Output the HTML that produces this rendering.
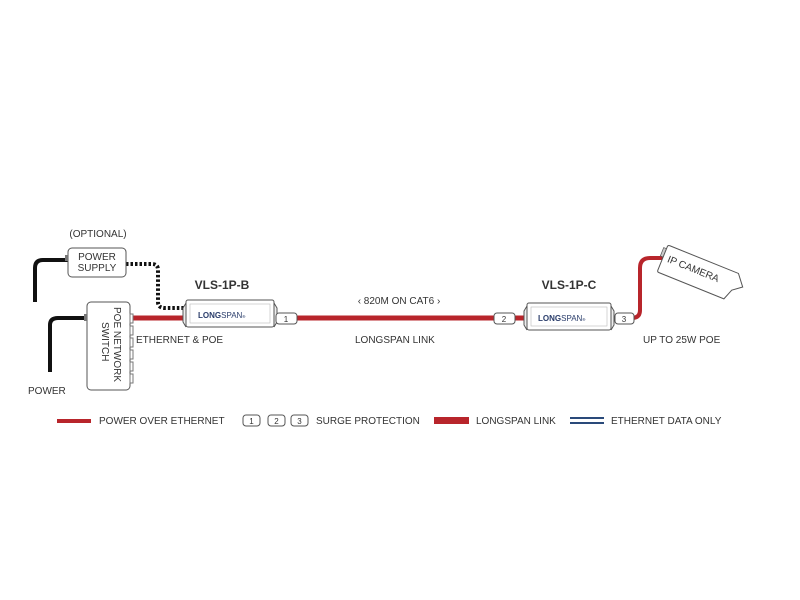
<!DOCTYPE html>
<html><head><style>body{margin:0;background:#fff}svg{display:block}text{font-family:"Liberation Sans",sans-serif;fill:#333}</style></head>
<body>
<svg width="800" height="600" viewBox="0 0 800 600" xmlns="http://www.w3.org/2000/svg">
<path d="M35,302 V268 Q35,260 43,260 H68" stroke="#111" stroke-width="4" fill="none"/>
<path d="M50,372 V325 Q50,318 58,318 H87" stroke="#111" stroke-width="4" fill="none"/>
<path d="M126,264 H152 Q158,264 158,270 V302 Q158,308 165,308 H188" stroke="#111" stroke-width="4" stroke-dasharray="2.5,2" fill="none"/>
<path d="M131,318 H190" stroke="#b8252b" stroke-width="5"/>
<path d="M270,318 H530" stroke="#b8252b" stroke-width="5"/>
<path d="M608,318 H632 Q640,318 640,310 V268 Q640,258 650,258 H670" stroke="#b8252b" stroke-width="4" fill="none"/>
<rect x="68" y="248" width="58" height="29" rx="4" fill="#fff" stroke="#555"/>
<rect x="65" y="255" width="3" height="6" fill="#777"/>
<text x="97" y="260" font-size="10" text-anchor="middle">POWER</text>
<text x="97" y="271" font-size="10" text-anchor="middle">SUPPLY</text>
<text x="98" y="237" font-size="10" text-anchor="middle">(OPTIONAL)</text>
<rect x="87" y="302" width="43" height="88" rx="4" fill="#fff" stroke="#555"/>
<rect x="84" y="314" width="3" height="7" fill="#777"/>
<g fill="#fff" stroke="#777"><rect x="130" y="314" width="3" height="9"/><rect x="130" y="326" width="3" height="9"/><rect x="130" y="338" width="3" height="9"/><rect x="130" y="350" width="3" height="9"/><rect x="130" y="362" width="3" height="9"/><rect x="130" y="374" width="3" height="9"/></g>
<text transform="translate(114,307) rotate(90)" font-size="10">POE NETWORK</text>
<text transform="translate(102,322) rotate(90)" font-size="10">SWITCH</text>
<text x="28" y="394" font-size="10">POWER</text>
<text x="222" y="289" font-size="12" font-weight="bold" text-anchor="middle">VLS-1P-B</text>
<path d="M186,303 L183,308 L183,322 L186,327 M274,303 L277,308 L277,322 L274,327" stroke="#555" fill="#eee"/>
<rect x="186" y="300" width="88" height="27" rx="2" fill="#fff" stroke="#555"/>
<rect x="190" y="304" width="80" height="19" fill="#fff" stroke="#bbb" stroke-width="0.6"/>
<text x="198" y="318" font-size="8" font-weight="bold" style="fill:#2a3d6b">LONG<tspan font-weight="normal">SPAN</tspan><tspan font-size="4">®</tspan></text>
<text x="569" y="289" font-size="12" font-weight="bold" text-anchor="middle">VLS-1P-C</text>
<path d="M527,306 L524,311 L524,325 L527,330 M611,306 L614,311 L614,325 L611,330" stroke="#555" fill="#eee"/>
<rect x="527" y="303" width="84" height="27" rx="2" fill="#fff" stroke="#555"/>
<rect x="531" y="307" width="76" height="19" fill="#fff" stroke="#bbb" stroke-width="0.6"/>
<text x="538" y="321" font-size="8" font-weight="bold" style="fill:#2a3d6b">LONG<tspan font-weight="normal">SPAN</tspan><tspan font-size="4">®</tspan></text>
<g fill="#fff" stroke="#555"><rect x="276" y="313" width="21" height="11" rx="3"/><rect x="494" y="313" width="21" height="11" rx="3"/><rect x="615" y="313" width="19" height="11" rx="3"/></g>
<g font-size="8" text-anchor="middle"><text x="286" y="322">1</text><text x="504" y="322">2</text><text x="624" y="322">3</text></g>
<g transform="translate(668,245) rotate(22)">
<rect x="-3" y="4" width="4" height="9" fill="#ccc" stroke="#555" stroke-width="0.7"/>
<path d="M2,0 H76 L85,11 L76,18 L72,29 H2 Q0,29 0,27 V2 Q0,0 2,0Z" fill="#fff" stroke="#555"/>
<text x="5" y="16" font-size="10">IP CAMERA</text>
</g>
<text x="136" y="343" font-size="10">ETHERNET &amp; POE</text>
<text x="355" y="343" font-size="10">LONGSPAN LINK</text>
<text x="399" y="304" font-size="10" text-anchor="middle">‹  820M ON CAT6  ›</text>
<text x="643" y="343" font-size="10">UP TO 25W POE</text>
<rect x="57" y="419" width="34" height="4" fill="#b8252b"/>
<text x="99" y="424" font-size="10">POWER OVER ETHERNET</text>
<g fill="#fff" stroke="#555"><rect x="243" y="415" width="17" height="11" rx="3"/><rect x="268" y="415" width="17" height="11" rx="3"/><rect x="291" y="415" width="17" height="11" rx="3"/></g>
<g font-size="8" text-anchor="middle"><text x="251.5" y="424">1</text><text x="276.5" y="424">2</text><text x="299.5" y="424">3</text></g>
<text x="316" y="424" font-size="10">SURGE PROTECTION</text>
<rect x="434" y="417" width="35" height="7" fill="#b8252b"/>
<text x="476" y="424" font-size="10">LONGSPAN LINK</text>
<rect x="570" y="417" width="34" height="2" fill="#2a4a7a"/><rect x="570" y="422" width="34" height="2" fill="#2a4a7a"/>
<text x="611" y="424" font-size="10">ETHERNET DATA ONLY</text>
</svg>
</body></html>
